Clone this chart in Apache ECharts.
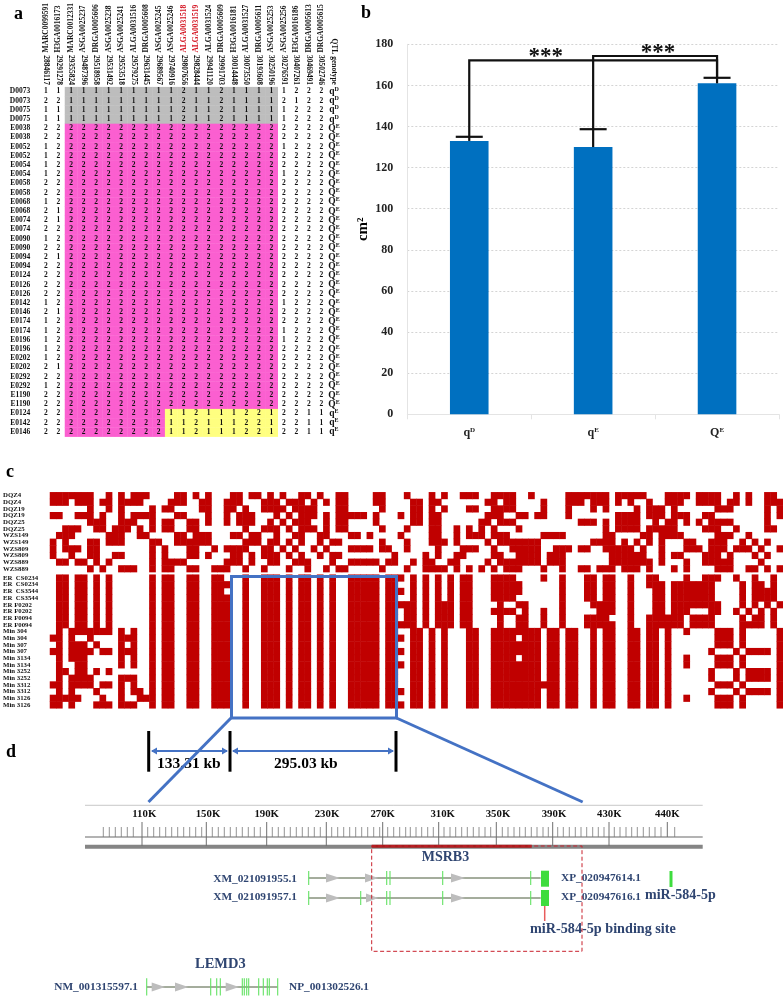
<!DOCTYPE html>
<html><head><meta charset="utf-8">
<style>html,body{margin:0;padding:0;background:#fff}#c{width:783px;height:997px}</style>
<script src="https://cdn.jsdelivr.net/npm/echarts@6/dist/echarts.min.js"></script>
</head><body><div id="c"></div>
<script>
/* ---------- panel a ---------- */
const markerPositions=['28846117','29291278','29355824','29487396','29518958','29531492','29553518','29579275','29631445','29689567','29740916','29807656','29828444','29941120','29991703','30014448','30073550','30193608','30250196','30276591','30407261','30469491','30502746','QTL genotype'];
const markerNames=['MARC0099591','H3GA0016173','MARC0012331','ASGA0025237','DRGA0005606','ASGA0025238','ASGA0025241','ALGA0031516','DRGA0005608','ASGA0025245','ASGA0025246','ALGA0031518','ALGA0031519','ALGA0031524','DRGA0005609','H3GA0016181','ALGA0031527','DRGA0005611','ASGA0025253','ASGA0025256','H3GA0016186','DRGA0005613','DRGA0005615',''];
const sampleIds=['D0073','D0073','D0075','D0075','E0038','E0038','E0052','E0052','E0054','E0054','E0058','E0058','E0068','E0068','E0074','E0074','E0090','E0090','E0094','E0094','E0124','E0126','E0126','E0142','E0146','E0174','E0174','E0196','E0196','E0202','E0202','E0292','E0292','E1190','E1190','E0124','E0142','E0146'];
const genoHead=['11','22','11','11','22','22','12','12','12','12','22','22','12','21','21','22','12','22','21','22','22','22','22','12','21','12','12','12','12','12','21','22','12','22','22','22','22','22'];
const genoTail=['1222','2122','1222','1222','2222','2222','1222','2222','2222','1222','2222','2222','2222','2222','2222','2222','2222','2222','2222','2222','2222','2222','2222','1222','2222','2222','1222','1222','2222','2222','2222','2222','2222','2222','2222','2211','2211','2211'];
const genoCoreD='11111111121121111';
const genoCoreQE='22222222222222222';
const genoCoreQe='22222222112111221';
const qtlGenotype=['qD','qD','qD','qD','QE','QE','QE','QE','QE','QE','QE','QE','QE','QE','QE','QE','QE','QE','QE','QE','QE','QE','QE','QE','QE','QE','QE','QE','QE','QE','QE','QE','QE','QE','QE','qE','qE','qE'];

/* ---------- panel b ---------- */
const groupNames=['q^D','q^E','Q^E'];
const groupMeans=[133,130,161];
const groupErrorTops=[135,138.7,163.7];
const bracketLevels=[172.2,174.3];
const yTicks=[0,20,40,60,80,100,120,140,160,180];

/* ---------- panel c ---------- */
const hapTopNames=['DQZ4','DQZ4','DQZ19','DQZ19','DQZ25','DQZ25','WZS149','WZS149','WZS809','WZS809','WZS889','WZS889'];
const hapBottomNames=['ER  CS0234','ER  CS0234','ER  CS3544','ER  CS3544','ER F0202','ER F0202','ER F0094','ER F0094','Min 304','Min 304','Min 307','Min 307','Min 3134','Min 3134','Min 3252','Min 3252','Min 3312','Min 3312','Min 3126','Min 3126'];
const hapColumnCount=118;
const hapTopRows=[
"0-6 9 11 13-15 20-21 23 25 29-30 32-33 35 37 40-41 43 46-47 52-53 57 61 63 66-68 71-74 77 83-89 91-95 99-102 104-107 110 112 115-116",
"0-2 4-6 8-9 11-14 19-21 24-25 28-30 34-36 38-40 42 44 46-47 52-53 58-59 61-62 70-71 73-74 79 83-85 87-89 91 93 96 99-101 104-107 109-110 112 115-117",
"6 9 11 16 18-19 24-25 28-29 31 34-37 39-42 46-47 53 58-59 61 63 67-68 71-74 79 83 87 89 94 96-98 100 107-109 115 117",
"0-1 4-6 8 11 13-16 20-21 25 28 30-32 36 38 40-42 44 46-50 52 56 58-59 61-62 70-72 75-76 78-79 83 91-94 96-98 100-102 105-106 115 117",
"6-8 11-13 16 18-19 22-23 25 28 30-32 35 37 39-41 44 46-47 52 58-59 61-62 69-70 72-74 85-87 89 91-94 97 99-100 102 104 106-109 115",
"2-4 7-8 10-12 14 16 18-19 22-23 31 34-36 38 40-42 44 46-47 53 57 61-62 65 67 69 71 75 89 91-94 96-100 105-107 110 115-116",
"1-3 9-11 14-15 20-21 23-25 29-30 32-33 36 39-40 43-44 48-49 51 56 61-62 65 67-69 71-73 79-82 89-90 95-96 98-101 107-109 112",
"0 2 6-7 9-11 16-17 20-25 31-33 35-36 38 40 43 45-46 53 57 61-63 65 70 72-78 87-90 92 94 96 98 102-103 106-108 111 113 115",
"0 2-4 6-7 16 18 22-23 26 28-31 34-35 37 39 42 44 48-51 53-54 57 62 66-68 71 74-78 81-83 85-86 89-93 95 98 102-104 106-108 110-112 114 117",
"0 3 6-7 10-11 16 18 22-23 25 29-30 32 34-36 38 40 43 45-46 55 60 62 65-66 71-72 75-78 80-82 90-95 98 100-101 105-107 109 113 115",
"1-2 4-5 7 9 16 18-21 28-30 32 35-36 39-41 45 48-52 54-55 58 60-61 64-65 70 72-78 80-82 90-96 98 102 105-109 114",
"6 8 11-13 16 18-19 22-23 26-28 31 34 38 41 44 46-47 53 57 60-63 65 67 69 71 73-75 79 82 85-86 88-90 92-94 96 100 102 107-109 112-113 115 117"
];
const stripesLeft="16 18-19 22-23 26-28 31 34-36 38 40-41 43 45 48-52 54-55";
const stripesRight="58-59 61 63 67-68 71-78 80-81 83-84 87 89-90 93-94 96-97 99";
const stripesRightGapA="58-59 61 63 67-68 71-74 76-78 80-81 83-84 87 89-90 93-94 96-97 99";
const hapBottomRows=[
"1-2 4-5 7 9 16 18-19 22-23 26-27 31 34-36 38 40-41 43 45 48-52 54-55 56 58 60 62 64 66-67 71-74 79 82 86-87 89-90 93 96-97 102 105-107 110 113 116",
"1-2 4-5 7 9 "+stripesLeft+" 58 60 62 64 66-67 71-75 82 86-87 89-90 93 96-98 100-106 111 113-114 116",
"1-2 4-5 7 9 16 18-19 22-23 26-27 31 34-36 38 40-41 43 45 48-52 54-55 56 58 60 62 64 66-67 71-75 82 86-87 89-90 93 97-98 100-106 111 113-116",
"1-2 4-5 7 9 "+stripesLeft+" 58 60 62 64 66-67 71-74 82 86-87 89-90 93 97-98 100-106 111 113-116",
"1-2 4-5 7 9 "+stripesLeft+" 56-58 60 62-64 66-67 72 75-76 82 87-90 93 97-98 100-107 111 113 115 117",
"1-2 4-5 7 9 "+stripesLeft+" 57-58 60 62-64 66-67 71-74 76 79 82 88-90 93 97-98 100-102 106-107 110 112 114 116",
"1-2 4-5 7 9 "+stripesLeft+" 57-58 60 62-64 66-67 72 75-76 79 82 86-89 93 96-101 103-106 111 113-114 116",
"1-2 4-5 7 9 "+stripesLeft+" 56-58 60 62-64 66-67 72 75-76 79 82 86-90 93 96-101 103-106 111-114 116",
"1 3-9 11 13 "+stripesLeft+" "+stripesRight+" 102 107-109 111 117",
"0-1 3 6 11-13 "+stripesLeft+" 56 "+stripesRightGapA+" 107-109 111 117",
"1 3-5 7 11 13 "+stripesLeft+" "+stripesRight+" 107-109 111 117",
"0-1 3-6 8-9 11-13 "+stripesLeft+" 56 "+stripesRight+" 106 110 112-115 117",
"1 3-5 11 13 "+stripesLeft+" "+stripesRightGapA+" 102 107-109 111 117",
"1 4-5 11 13 "+stripesLeft+" 56 "+stripesRight+" 102 107-109 111 117",
"1-2 4-5 7 9 "+stripesLeft+" "+stripesRight+" 106 110 112-115 117",
"1 3-6 11-13 "+stripesLeft+" "+stripesRight+" 106 110 112-115 117",
"0-1 3-6 8-9 11 13 "+stripesLeft+" "+stripesRight+" 79 107-109 111 117",
"1 3 7 11 13-14 "+stripesLeft+" 56 "+stripesRight+" 106 110 112-115 117",
"0-4 8 11 14-15 "+stripesLeft+" "+stripesRight+" 102 107-109 111 117",
"0-1 3 7-9 11-13 "+stripesLeft+" 56 "+stripesRight+" 107-109 111 117"
];

/* ---------- panel d ---------- */
const rulerStart=85, rulerEnd=702.7, highlightStart=371.7, highlightEnd=531.7;
const rulerLabels=['110K','150K','190K','230K','270K','310K','350K','390K','430K','440K'];
const rulerLabelAt=[144.3,208,266.7,327,382.7,442.7,498,554,609.3,667.3];
const rulerMajor=[142,206.3,266.7,326.3,382.7,438.7,496.3,552.7,609,667.3];
const rulerMinor=[103.3,109.3,115.3,121.3,127.3,133.3,147.7,153.7,159.7,165.7,171.7,177.7,183.7,189.7,195.7,201.7,212.3,218.3,224.3,230.3,236.3,242.3,248.3,254.3,260.3,272.3,278.3,284.3,290.3,296.3,302.3,308.3,314.3,320.3,331.7,337.7,343.7,349.7,355.7,361.7,367.7,373.7,379.7,387.7,393.7,399.7,405.7,410.3,416,421.7,427.7,433.3,444,450,455.7,461.7,467.3,473.3,479,485,490.7,502.3,508,514,519.7,525.3,531.3,537,543,548.3,557.7,563.3,569.3,575.3,581,586.7,592.7,598.3,604,614.3,620,626,631.7,637.3,643.3,649.3,655,661,674.7];
const trackA=[308.7,540.7], trackB=[308.7,540.7], trackC=[146.7,277.7];
const exonsA=[308.7,386.7,390,442.7,530.7];
const exonsB=[308.7,360.7,386.7,390,442.7,530.7];
const exonsC=[146.7,210.7,216.7,220.3,242.3,244.3,246.7,248.7,258.7,263.3,267.3,269.3,277.7];
const utrStart=541, utrEnd=549;
const arrowsA=[[326,340],[365,378.3],[451,465]];
const arrowsB=[[326,340],[366,378.3],[451,465]];
const arrowsC=[[151.7,165],[175,188.3],[225.7,239]];

const NAVY='#2f4571', SERIF='"Liberation Serif","Times New Roman",serif';
const parseRuns=s=>{const o=[];s.trim().split(/\s+/).forEach(t=>{const p=t.split('-').map(Number);for(let i=p[0];i<=(p.length>1?p[1]:p[0]);i++)o.push(i)});return o};
const hapCells=rows=>{const d=[];rows.forEach((r,y)=>parseRuns(r).forEach(x=>d.push([x,y,1])));return d};

/* panel a cells */
const cells=[];
sampleIds.forEach((id,r)=>{
  const core=r<4?genoCoreD:(r>=35?genoCoreQe:genoCoreQE);
  const vals=genoHead[r]+core+genoTail[r];
  for(let c=0;c<vals.length;c++){
    let bg=0;
    if(c>=2&&c<=18){bg=r<4?1:2;if(r>=35&&c>=10)bg=3;}
    cells.push([c,r,vals[c],bg]);
  }
});
const BG=['transparent','#bdbdbd','#fb5fd0','#ffff80'];
function renderCell(p,api){
  const pt=api.coord([api.value(0),api.value(1)]),s=api.size([1,1]);
  const bg=api.value(3),ch=[];
  if(+bg)ch.push({type:'rect',shape:{x:pt[0]-s[0]/2,y:pt[1]-s[1]/2,width:s[0]+.4,height:s[1]+.4},style:{fill:BG[bg]}});
  ch.push({type:'text',style:{text:String(api.value(2)),x:pt[0],y:pt[1],align:'center',verticalAlign:'middle',fill:'#111',font:'bold 7.5px '+SERIF}});
  return {type:'group',children:ch};
}
const supLabel=v=>{const a=v.replace('^','');return a[0]+'{s|'+a[1]+'}'};
function renderQtl(p,api){
  const pt=api.coord([23,p.dataIndex]);
  const a=qtlGenotype[p.dataIndex];
  return {type:'text',style:{text:'{m|'+a[0]+'}{s|'+a[1]+'}',x:pt[0],y:pt[1],align:'center',verticalAlign:'middle',
    rich:{m:{font:'bold 9.5px '+SERIF,fill:'#111',color:'#111'},s:{font:'bold 6px '+SERIF,fill:'#111',color:'#111',verticalAlign:'top',padding:[0,0,3,0]}}}};
}

/* panel d helpers */
const segSeries=(data,xi,color,width,extra)=>Object.assign({type:'custom',xAxisIndex:xi,yAxisIndex:xi,silent:true,clip:false,z:5,data,
  encode:{x:[0,2],y:[1,3]},
  renderItem:(p,api)=>{const a=api.coord([api.value(0),api.value(1)]),b=api.coord([api.value(2),api.value(3)]);
    return {type:'line',shape:{x1:a[0],y1:a[1],x2:b[0],y2:b[1]},style:{stroke:color,lineWidth:width}}}},extra||{});
const vSegs=(xs,y1,y2)=>xs.map(x=>[x,y1,x,y2]);
const triSeries=(arrows,yc,xi)=>({type:'custom',xAxisIndex:xi,yAxisIndex:xi,silent:true,clip:false,z:6,data:arrows,encode:{x:[0,1]},
  renderItem:(p,api)=>{const a=api.coord([api.value(0),yc]),b=api.coord([api.value(1),yc]);
    return {type:'polygon',shape:{points:[[a[0],a[1]-4.4],[b[0],a[1]],[a[0],a[1]+4.4]]},style:{fill:'#bdbdbd'}}}});

const O=4; // index of the track (overlay) grid
const txt=(text,x,y,font,fill,align)=>({type:'text',z:60,x,y,style:{text,font:font+' '+SERIF,fill:fill||'#000',align:align||'left',verticalAlign:'middle'},silent:true});
const line=(x1,y1,x2,y2,stroke,lineWidth,z)=>({type:'line',z:z||70,shape:{x1,y1,x2,y2},style:{stroke,lineWidth},silent:true});
const BLUE='#4472c4';

const option={
  animation:false,backgroundColor:'#fff',
  grid:[
    {left:39.7,top:86.9,width:300.5,height:349.6},
    {left:39.7,top:52,width:300.5,height:30},
    {left:407.3,top:44.3,width:371.7,height:370},
    {left:48.7,top:492.3,width:735.5,height:79.8},
    {left:0,top:0,width:783,height:997},
    {left:48.7,top:574.7,width:735.5,height:133.6}
  ],
  xAxis:[
    {gridIndex:0,type:'category',position:'top',data:markerPositions,axisLine:{show:false},axisTick:{show:false},
      axisLabel:{interval:0,rotate:90,margin:2,fontFamily:SERIF,fontSize:7.5,fontWeight:'bold',color:'#111'}},
    {gridIndex:1,type:'category',position:'top',data:markerNames,axisLine:{show:false},axisTick:{show:false},
      axisLabel:{interval:0,rotate:90,margin:0,fontFamily:SERIF,fontSize:7.5,fontWeight:'bold',
        color:(v)=>(v==='ALGA0031518'||v==='ALGA0031519')?'#d3101e':'#111'}},
    {gridIndex:2,type:'category',data:groupNames,axisLine:{lineStyle:{color:'#e4e4e4'}},axisTick:{show:true,lineStyle:{color:'#e4e4e4'},alignWithLabel:false},
      axisLabel:{margin:12,formatter:supLabel,fontFamily:SERIF,fontSize:12,fontWeight:'bold',color:'#222',
        rich:{s:{fontFamily:SERIF,fontSize:7,fontWeight:'bold',color:'#222',padding:[0,0,6,0]}}}},
    {gridIndex:3,type:'category',show:false,data:Array.from({length:hapColumnCount},(_,i)=>i)},
    {gridIndex:4,type:'value',show:false,min:0,max:783},
    {gridIndex:5,type:'category',show:false,data:Array.from({length:hapColumnCount},(_,i)=>i)}
  ],
  yAxis:[
    {gridIndex:0,type:'category',inverse:true,data:sampleIds,axisLine:{show:false},axisTick:{show:false},
      axisLabel:{interval:0,margin:9.5,fontFamily:SERIF,fontSize:7.5,fontWeight:'bold',color:'#111'}},
    {gridIndex:1,type:'value',show:false},
    {gridIndex:2,type:'value',min:0,max:180,interval:20,name:'cm\u00b2',nameLocation:'middle',nameGap:37,nameRotate:90,
      nameTextStyle:{fontFamily:SERIF,fontSize:15,fontWeight:'bold',color:'#000'},
      axisLine:{show:true,lineStyle:{color:'#e4e4e4'}},axisTick:{show:false},
      splitLine:{lineStyle:{color:'#d4d4d4',type:[2,2],width:1}},
      axisLabel:{margin:14,fontFamily:SERIF,fontSize:12,fontWeight:'bold',color:'#222'}},
    {gridIndex:3,type:'category',inverse:true,data:hapTopNames,axisLine:{show:false},axisTick:{show:false},
      axisLabel:{interval:0,align:'left',margin:47,fontFamily:SERIF,fontSize:6.8,fontWeight:'bold',color:'#111'}},
    {gridIndex:4,type:'value',show:false,inverse:true,min:0,max:997},
    {gridIndex:5,type:'category',inverse:true,data:hapBottomNames,axisLine:{show:false},axisTick:{show:false},
      axisLabel:{interval:0,align:'left',margin:47,fontFamily:SERIF,fontSize:6.8,fontWeight:'bold',color:'#111'}}
  ],
  series:[
    {type:'custom',xAxisIndex:0,yAxisIndex:0,silent:true,z:3,data:cells,encode:{x:0,y:1},renderItem:renderCell},
    {type:'custom',xAxisIndex:0,yAxisIndex:0,silent:true,z:3,data:qtlGenotype.map((q,i)=>[23,i]),encode:{x:0,y:1},renderItem:renderQtl},
    {type:'bar',xAxisIndex:2,yAxisIndex:2,data:groupMeans,barWidth:38.6,itemStyle:{color:'#0070c0'},silent:true,z:2},
    /* error bars */
    {type:'custom',xAxisIndex:2,yAxisIndex:2,silent:true,clip:false,z:5,data:groupMeans.map((m,i)=>[i,m,groupErrorTops[i]]),encode:{x:0,y:[1,2]},
      renderItem:(p,api)=>{const a=api.coord([api.value(0),api.value(1)]),b=api.coord([api.value(0),api.value(2)]);
        const st={stroke:'#111',lineWidth:2.2};
        return {type:'group',children:[
          {type:'line',shape:{x1:a[0],y1:a[1],x2:a[0],y2:b[1]},style:st},
          {type:'line',shape:{x1:a[0]-13.5,y1:b[1],x2:a[0]+13.5,y2:b[1]},style:st}]}}},
    /* significance brackets */
    {type:'custom',xAxisIndex:2,yAxisIndex:2,silent:true,clip:false,z:6,
      data:[[0,2,groupErrorTops[0],bracketLevels[0],groupErrorTops[2]],[1,2,groupErrorTops[1],bracketLevels[1],groupErrorTops[2]]],encode:{x:[0,1],y:3},
      renderItem:(p,api)=>{const x1=api.coord([api.value(0),0])[0],x2=api.coord([api.value(1),0])[0];
        const y1=api.coord([0,api.value(2)])[1],ym=api.coord([0,api.value(3)])[1],y2=api.coord([0,api.value(4)])[1];
        return {type:'group',children:[
          {type:'polyline',shape:{points:[[x1,y1],[x1,ym],[x2,ym],[x2,y2]]},style:{stroke:'#111',lineWidth:2.2,fill:'none'}},
          {type:'text',style:{text:'***',x:p.dataIndex?658:545.7,y:ym-3,align:'center',verticalAlign:'middle',font:'bold 23px '+SERIF,fill:'#111'}}]}}},
    {type:'heatmap',xAxisIndex:3,yAxisIndex:3,data:hapCells(hapTopRows),silent:true,itemStyle:{color:'#c00000'},z:2},
    {type:'heatmap',xAxisIndex:5,yAxisIndex:5,data:hapCells(hapBottomRows),silent:true,itemStyle:{color:'#c00000'},z:2},
    /* panel d */
    segSeries([[rulerStart,805.3,rulerEnd,805.3]],O,'#c8c8c8',1),
    segSeries([[rulerStart,837,rulerEnd,837]],O,'#9a9a9a',1.5),
    segSeries([[rulerStart,846.7,rulerEnd,846.7]],O,'#858585',4),
    segSeries([[highlightStart,846.2,highlightEnd,846.2]],O,'#a81c1c',3,{z:7}),
    segSeries(vSegs(rulerMajor.slice(0,9),822,846),O,'#6e6e6e',1),
    segSeries(vSegs(rulerMajor.slice(9),822,837),O,'#6e6e6e',1),
    segSeries(vSegs(rulerMinor,827,837),O,'#777',0.8),
    segSeries([[trackA[0],878,trackA[1],878],[trackB[0],898,trackB[1],898],[trackC[0],987,trackC[1],987]],O,'#4a5b3a',1),
    triSeries(arrowsA,878,O),triSeries(arrowsB,898,O),triSeries(arrowsC,987,O),
    segSeries(vSegs(exonsA,871,885),O,'#63e263',1.1,{z:8}),
    segSeries(vSegs(exonsB,891,905),O,'#63e263',1.1,{z:8}),
    segSeries(vSegs(exonsC,978.3,995.5),O,'#63e263',1.1,{z:8}),
    segSeries([[(utrStart+utrEnd)/2,870.7,(utrStart+utrEnd)/2,886.7],[(utrStart+utrEnd)/2,890,(utrStart+utrEnd)/2,906]],O,'#3edc3e',utrEnd-utrStart,{z:8}),
    segSeries([[671,871,671,887]],O,'#3edc3e',3,{z:8}),
    segSeries([[544.7,906,544.7,921]],O,'#e85c5c',1.5,{z:8})
  ],
  graphic:{elements:[
    txt('a',14,14,'bold 18px'),txt('b',361,13,'bold 18px'),txt('c',6,472.5,'bold 18px'),txt('d',6,752,'bold 18px'),
    txt('133.31 kb',157,763.5,'bold 15.5px'),txt('295.03 kb',274,763.5,'bold 15.5px'),
    ...rulerLabels.map((t,i)=>txt(t,rulerLabelAt[i],814,'bold 10.8px','#111','center')),
    txt('MSRB3',421.7,857.5,'bold 14px',NAVY),
    txt('XM_021091955.1',297,878.7,'bold 11.3px',NAVY,'right'),txt('XM_021091957.1',297,897,'bold 11.3px',NAVY,'right'),
    txt('XP_020947614.1',561,878.5,'bold 11.3px',NAVY),txt('XP_020947616.1',561,897,'bold 11.3px',NAVY),
    txt('miR-584-5p',645,895.5,'bold 14px',NAVY),txt('miR-584-5p binding site',530,929.5,'bold 14.2px',NAVY),
    txt('LEMD3',195,964,'bold 14.5px',NAVY),
    txt('NM_001315597.1',138,987,'bold 11.3px',NAVY,'right'),txt('NP_001302526.1',289,987,'bold 11.3px',NAVY),
    {type:'rect',z:65,shape:{x:371.7,y:846,width:210.3,height:105.3},style:{fill:'none',stroke:'#c8202c',lineWidth:1,lineDash:[4,2.5]},silent:true},
    {type:'rect',z:70,shape:{x:231.5,y:576.5,width:165,height:141.5},style:{fill:'none',stroke:BLUE,lineWidth:3},silent:true},
    line(231,718,148.5,802,BLUE,3),line(396.5,718,582.7,802,BLUE,3),
    line(148.7,731,148.7,771.7,'#000',3),line(230,731,230,771.7,'#000',3),line(396,731,396,771.7,'#000',3),
    line(152,751,227,751,BLUE,2,68),line(233,751,393,751,BLUE,2,68),
    {type:'polygon',z:68,shape:{points:[[151,751],[157,747.5],[157,754.5]]},style:{fill:BLUE},silent:true},
    {type:'polygon',z:68,shape:{points:[[228,751],[222,747.5],[222,754.5]]},style:{fill:BLUE},silent:true},
    {type:'polygon',z:68,shape:{points:[[232,751],[238,747.5],[238,754.5]]},style:{fill:BLUE},silent:true},
    {type:'polygon',z:68,shape:{points:[[394,751],[388,747.5],[388,754.5]]},style:{fill:BLUE},silent:true}
  ]}
};
echarts.init(document.getElementById('c'),null,{renderer:'canvas'}).setOption(option);
</script></body></html>
